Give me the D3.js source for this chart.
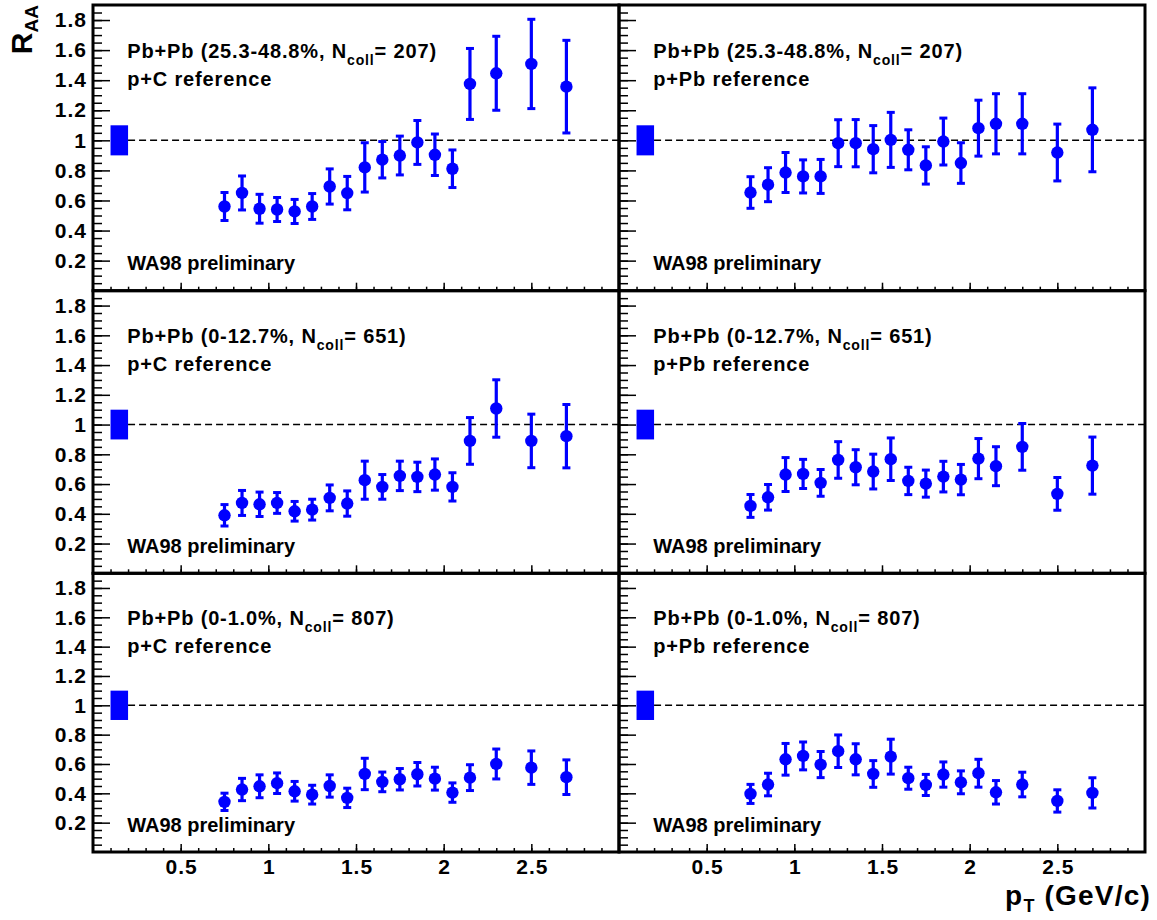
<!DOCTYPE html>
<html>
<head>
<meta charset="utf-8">
<script src="https://cdn.jsdelivr.net/npm/d3@7"></script>
<style>
    body { margin: 0; background: #fff; }
    svg { display: block; font-family: "Liberation Sans", Arial, Helvetica, sans-serif; font-weight: bold; }
</style>
</head>
<body>
<svg id="chart"></svg>
<script>
// pT bin centres (GeV/c), same for every panel
const ptValues = [0.75, 0.85, 0.95, 1.05, 1.15, 1.25, 1.35, 1.45, 1.55, 1.65, 1.75, 1.85, 1.95, 2.05, 2.15, 2.3, 2.5, 2.7];

// 25.3-48.8% centrality
const raaPeriphPC = [0.56, 0.65, 0.545, 0.54, 0.527, 0.56, 0.693, 0.649, 0.82, 0.871, 0.899, 0.986, 0.904, 0.811, 1.375, 1.446, 1.508, 1.357];
const errPeriphPC = [0.093, 0.113, 0.096, 0.080, 0.080, 0.086, 0.117, 0.111, 0.164, 0.121, 0.129, 0.146, 0.138, 0.125, 0.236, 0.246, 0.297, 0.308];
const raaPeriphPPb = [0.653, 0.705, 0.786, 0.76, 0.76, 0.981, 0.981, 0.941, 1.003, 0.937, 0.833, 0.992, 0.849, 1.081, 1.11, 1.11, 0.919, 1.07];
const errPeriphPPb = [0.105, 0.113, 0.133, 0.11, 0.113, 0.156, 0.157, 0.157, 0.183, 0.133, 0.124, 0.156, 0.135, 0.186, 0.2, 0.2, 0.189, 0.279];

// 0-12.7% centrality
const raaCentPC = [0.39, 0.473, 0.464, 0.473, 0.417, 0.428, 0.507, 0.469, 0.626, 0.581, 0.655, 0.648, 0.664, 0.581, 0.89, 1.108, 0.89, 0.922];
const errCentPC = [0.072, 0.084, 0.082, 0.07, 0.066, 0.07, 0.087, 0.085, 0.128, 0.083, 0.099, 0.099, 0.105, 0.095, 0.157, 0.193, 0.18, 0.213];
const raaCentPPb = [0.453, 0.511, 0.664, 0.668, 0.608, 0.762, 0.713, 0.684, 0.767, 0.621, 0.603, 0.65, 0.63, 0.771, 0.72, 0.85, 0.534, 0.724];
const errCentPPb = [0.077, 0.086, 0.114, 0.098, 0.09, 0.123, 0.118, 0.117, 0.143, 0.092, 0.091, 0.103, 0.102, 0.135, 0.131, 0.157, 0.11, 0.192];

// 0-1.0% centrality
const raaMostCentPC = [0.342, 0.426, 0.448, 0.469, 0.414, 0.391, 0.45, 0.369, 0.532, 0.478, 0.496, 0.53, 0.5, 0.405, 0.507, 0.6, 0.575, 0.51];
const errMostCentPC = [0.059, 0.076, 0.078, 0.07, 0.067, 0.064, 0.076, 0.066, 0.107, 0.067, 0.073, 0.08, 0.078, 0.066, 0.088, 0.102, 0.114, 0.118];
const raaMostCentPPb = [0.396, 0.46, 0.632, 0.655, 0.596, 0.687, 0.632, 0.532, 0.65, 0.503, 0.457, 0.528, 0.475, 0.537, 0.407, 0.46, 0.348, 0.403];
const errMostCentPPb = [0.065, 0.077, 0.108, 0.095, 0.089, 0.111, 0.106, 0.091, 0.119, 0.075, 0.072, 0.086, 0.078, 0.095, 0.08, 0.084, 0.076, 0.103];

// panel labels
const centralityLabels = ['25.3-48.8%', '0-12.7%', '0-1.0%'];
const ncollValues = [207, 651, 807];
const referenceLabels = ['p+C', 'p+Pb'];
const previewLabel = 'WA98 preliminary';

// axis ticks
const yMajorTicks = [0.2, 0.4, 0.6, 0.8, 1.0, 1.2, 1.4, 1.6, 1.8];
const xMajorTicks = [0.5, 1.0, 1.5, 2.0, 2.5];

// normalisation uncertainty box around 1
const normBox = { x0: 0.1, x1: 0.2, y0: 0.9, y1: 1.1 };

class RaaGrid {
    constructor(svgSelector) {
        this.svg = d3.select(svgSelector);
        this.width = 1157;
        this.height = 920;
        this.left = 93;
        this.panelWidth = 526;
        this.rows = [[5, 290.7], [290.7, 573.3], [573.3, 852]];
        this.blue = '#0000ff';

        this.svg.attr('width', this.width).attr('height', this.height);
    }

    draw(panels) {
        panels.forEach(p => this.drawPanel(p));
        this.drawTitles();
    }

    styleTickText(axis) {
        axis.selectAll('text')
            .style('font-size', '21px')
            .style('letter-spacing', '1px')
            .style('font-family', null)
            .attr('fill', '#000');
    }

    drawPanel(p) {
        const [top, bottom] = this.rows[p.row];
        const x0 = this.left + p.col * this.panelWidth;
        const x = d3.scaleLinear().domain([0, 3]).range([x0, x0 + this.panelWidth]);
        const y = d3.scaleLinear().domain([0, 1.9]).range([bottom, top]);
        const g = this.svg.append('g').attr('class', 'panel');

        // minor / major ticks on the left
        g.append('g')
            .attr('transform', `translate(${x0},0)`)
            .call(d3.axisLeft(y).tickValues(d3.range(0.05, 1.9, 0.05)).tickSize(-9).tickFormat(''))
            .call(a => a.select('.domain').remove());
        const yAxis = g.append('g')
            .attr('transform', `translate(${x0},0)`)
            .call(d3.axisLeft(y).tickValues(yMajorTicks).tickSize(-17).tickPadding(6)
                .tickFormat(p.col === 0 ? d3.format('~g') : ''))
            .call(a => a.select('.domain').remove());
        this.styleTickText(yAxis);

        // ticks on the bottom
        g.append('g')
            .attr('transform', `translate(0,${bottom})`)
            .call(d3.axisBottom(x).tickValues(d3.range(0.1, 3, 0.1)).tickSize(-4).tickFormat(''))
            .call(a => a.select('.domain').remove());
        const xAxis = g.append('g')
            .attr('transform', `translate(0,${bottom})`)
            .call(d3.axisBottom(x).tickValues(xMajorTicks).tickSize(-8).tickPadding(7)
                .tickFormat(p.row === 2 ? d3.format('~g') : ''))
            .call(a => a.select('.domain').remove());
        this.styleTickText(xAxis);
        xAxis.selectAll('text').attr('dx', '0.5px');

        g.selectAll('.tick line').attr('stroke', '#000').attr('stroke-width', 1.5);

        // frame
        g.append('rect')
            .attr('x', x0).attr('y', top)
            .attr('width', this.panelWidth).attr('height', bottom - top)
            .attr('fill', 'none').attr('stroke', '#000').attr('stroke-width', 3);

        // normalisation box and unity line
        g.append('rect')
            .attr('x', x(normBox.x0)).attr('y', y(normBox.y1))
            .attr('width', x(normBox.x1) - x(normBox.x0))
            .attr('height', y(normBox.y0) - y(normBox.y1))
            .attr('fill', this.blue);
        g.append('line')
            .attr('x1', x(normBox.x1)).attr('x2', x(3))
            .attr('y1', y(1)).attr('y2', y(1))
            .attr('stroke', '#000').attr('stroke-width', 1.5).attr('stroke-dasharray', '7,4');

        // labels
        const tx = x(0.195);
        const title = g.append('text').attr('x', tx).attr('y', y(1.55))
            .style('font-size', '20px').style('letter-spacing', '0.85px');
        title.append('tspan').text(`Pb+Pb (${centralityLabels[p.row]}, N`);
        title.append('tspan').text('coll').attr('dy', 7).style('font-size', '14px');
        title.append('tspan').text(`= ${ncollValues[p.row]})`).attr('dy', -7);
        g.append('text').attr('x', tx).attr('y', y(1.36))
            .style('font-size', '20px').style('letter-spacing', '0.85px')
            .text(`${referenceLabels[p.col]} reference`);
        g.append('text').attr('x', tx).attr('y', y(0.135)).style('font-size', '20px')
            .text(previewLabel);

        // data points with error bars
        const pts = ptValues.map((pt, i) => ({ pt, v: p.values[i], e: p.errors[i] }));
        const pg = g.append('g').selectAll('g').data(pts).enter().append('g');
        pg.append('line')
            .attr('x1', d => x(d.pt)).attr('x2', d => x(d.pt))
            .attr('y1', d => y(d.v - d.e)).attr('y2', d => y(d.v + d.e))
            .attr('stroke', this.blue).attr('stroke-width', 3.2);
        [-1, 1].forEach(s => {
            pg.append('line')
                .attr('x1', d => x(d.pt) - 4).attr('x2', d => x(d.pt) + 4)
                .attr('y1', d => y(d.v + s * d.e)).attr('y2', d => y(d.v + s * d.e))
                .attr('stroke', this.blue).attr('stroke-width', 3);
        });
        pg.append('circle')
            .attr('cx', d => x(d.pt)).attr('cy', d => y(d.v))
            .attr('r', 6.2).attr('fill', this.blue);
    }

    drawTitles() {
        const ry = this.svg.append('text')
            .attr('transform', 'translate(32,5) rotate(-90)')
            .attr('text-anchor', 'end')
            .style('font-size', '30px');
        ry.append('tspan').text('R');
        ry.append('tspan').text('AA').attr('dy', 6).style('font-size', '19px');

        const px = this.svg.append('text')
            .attr('x', 1151).attr('y', 905)
            .attr('text-anchor', 'end')
            .style('font-size', '28px')
            .style('letter-spacing', '1.2px');
        px.append('tspan').text('p');
        px.append('tspan').text('T').attr('dy', 7).style('font-size', '18px');
        px.append('tspan').text(' (GeV/c)').attr('dy', -7);
    }
}

const panels = [
    { row: 0, col: 0, values: raaPeriphPC, errors: errPeriphPC },
    { row: 0, col: 1, values: raaPeriphPPb, errors: errPeriphPPb },
    { row: 1, col: 0, values: raaCentPC, errors: errCentPC },
    { row: 1, col: 1, values: raaCentPPb, errors: errCentPPb },
    { row: 2, col: 0, values: raaMostCentPC, errors: errMostCentPC },
    { row: 2, col: 1, values: raaMostCentPPb, errors: errMostCentPPb }
];

const grid = new RaaGrid('#chart');
grid.draw(panels);
</script>
</body>
</html>
